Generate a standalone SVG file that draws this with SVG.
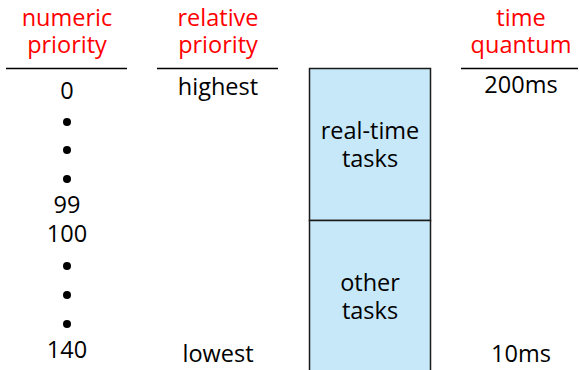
<svg xmlns="http://www.w3.org/2000/svg" width="579" height="370" viewBox="0 0 579 370">
<style>
text{font-family:"Open Sans","Noto Sans",sans-serif;font-size:23.5px;text-anchor:middle;fill:#000}
.h{fill:#ff0000}
.rule{stroke:#000;stroke-width:1.3}
.box{fill:#c6e8f8;stroke:#1a1a1a;stroke-width:1.5}
</style>
<rect width="579" height="370" fill="#fff"/>
<g id="headers">
<text class="h" x="67" y="26">numeric</text>
<text class="h" x="67" y="53">priority</text>
<text class="h" x="218" y="26">relative</text>
<text class="h" x="218" y="53">priority</text>
<text class="h" x="521" y="26">time</text>
<text class="h" x="521" y="53">quantum</text>
<line class="rule" x1="6" y1="68.5" x2="127" y2="68.5"/>
<line class="rule" x1="157" y1="68.5" x2="278" y2="68.5"/>
<line class="rule" x1="461" y1="68.5" x2="578" y2="68.5"/>
</g>
<g id="numeric">
<text x="67" y="99">0</text>
<circle cx="67" cy="122" r="4"/>
<circle cx="67" cy="150" r="4"/>
<circle cx="67" cy="179" r="4"/>
<text x="67" y="213">99</text>
<text x="67" y="242">100</text>
<circle cx="67" cy="266" r="4"/>
<circle cx="67" cy="295" r="4"/>
<circle cx="67" cy="324" r="4"/>
<text x="67" y="358">140</text>
</g>
<g id="relative">
<text x="218" y="95">highest</text>
<text x="218" y="362">lowest</text>
</g>
<g id="realtime">
<rect class="box" x="309.5" y="68.5" width="121" height="152"/>
<text x="370" y="139">real-time</text>
<text x="370" y="167">tasks</text>
</g>
<g id="other">
<rect class="box" x="309.5" y="220.5" width="121" height="160"/>
<text x="370" y="291">other</text>
<text x="370" y="319">tasks</text>
</g>
<g id="quantum">
<text x="521" y="93">200ms</text>
<text x="521" y="362">10ms</text>
</g>
<g id="connectors"></g>
</svg>
